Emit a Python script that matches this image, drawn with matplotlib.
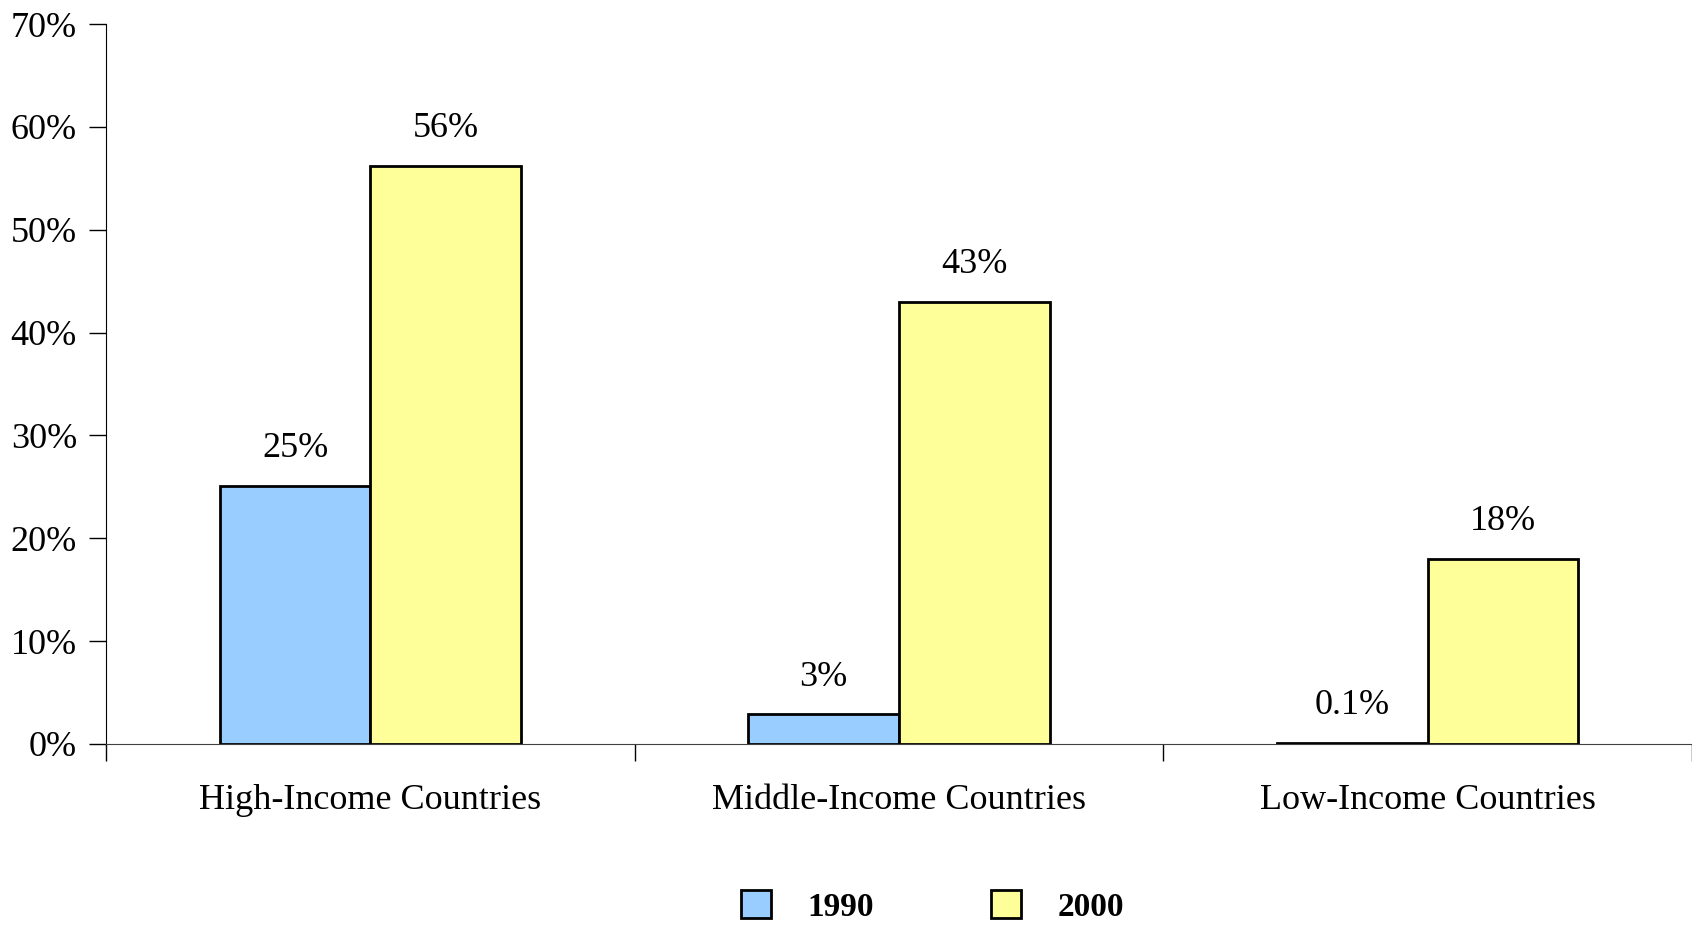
import numpy as np
import matplotlib
matplotlib.use('Agg')
import matplotlib.pyplot as plt
from matplotlib.patches import Patch

plt.rcParams['font.family'] = ['Liberation Serif', 'DejaVu Serif']

categories = ['High-Income Countries', 'Middle-Income Countries', 'Low-Income Countries']
years = ['1990', '2000']
v1990 = [25.1, 2.9, 0.1]
v2000 = [56.2, 43.0, 18.0]
lab1990 = ['25%', '3%', '0.1%']
lab2000 = ['56%', '43%', '18%']
yticks = [0, 10, 20, 30, 40, 50, 60, 70]

c1990 = '#99ccff'
c2000 = '#ffff99'

fig = plt.figure(figsize=(16.92, 9.25), dpi=100)
ax = fig.add_axes([0.0627, 0.1957, 0.9373, 0.7783])

x = np.arange(len(categories))
w = 0.285
ax.bar(x - w/2, v1990, w, color=c1990, edgecolor='black', linewidth=2)
ax.bar(x + w/2, v2000, w, color=c2000, edgecolor='black', linewidth=2)

# value labels above bars
for i in range(len(x)):
    ax.text(x[i] - w/2, v1990[i] + 2.0, lab1990[i], ha='center', va='bottom', fontsize=26)
    ax.text(x[i] + w/2, v2000[i] + 2.0, lab2000[i], ha='center', va='bottom', fontsize=26)

ax.set_xlim(-0.5, 2.5)
ax.set_ylim(0, 70)
ax.set_yticks(yticks)
ax.set_yticklabels([str(t) + '%' for t in yticks], fontsize=26)
ax.set_xticks(x)
ax.set_xticklabels(categories, fontsize=26)
ax.set_xticks([-0.5, 0.5, 1.5, 2.5], minor=True)
ax.tick_params(axis='x', which='major', length=0, pad=29)
ax.tick_params(axis='x', which='minor', length=12, direction='out', width=1)
ax.tick_params(axis='y', length=12, width=1, pad=9)

ax.spines['top'].set_visible(False)
ax.spines['right'].set_visible(False)
ax.spines['bottom'].set_color('#404040')

handles = [Patch(facecolor=c1990, edgecolor='black', linewidth=2),
           Patch(facecolor=c2000, edgecolor='black', linewidth=2)]
fig.legend(handles, years, loc='center', bbox_to_anchor=(0.551, 0.02), ncol=2,
           frameon=False, prop={'weight': 'bold', 'size': 24},
           handlelength=0.9, handleheight=0.9, handletextpad=1.1, columnspacing=3.5)

fig.savefig('out.png', dpi=100)
